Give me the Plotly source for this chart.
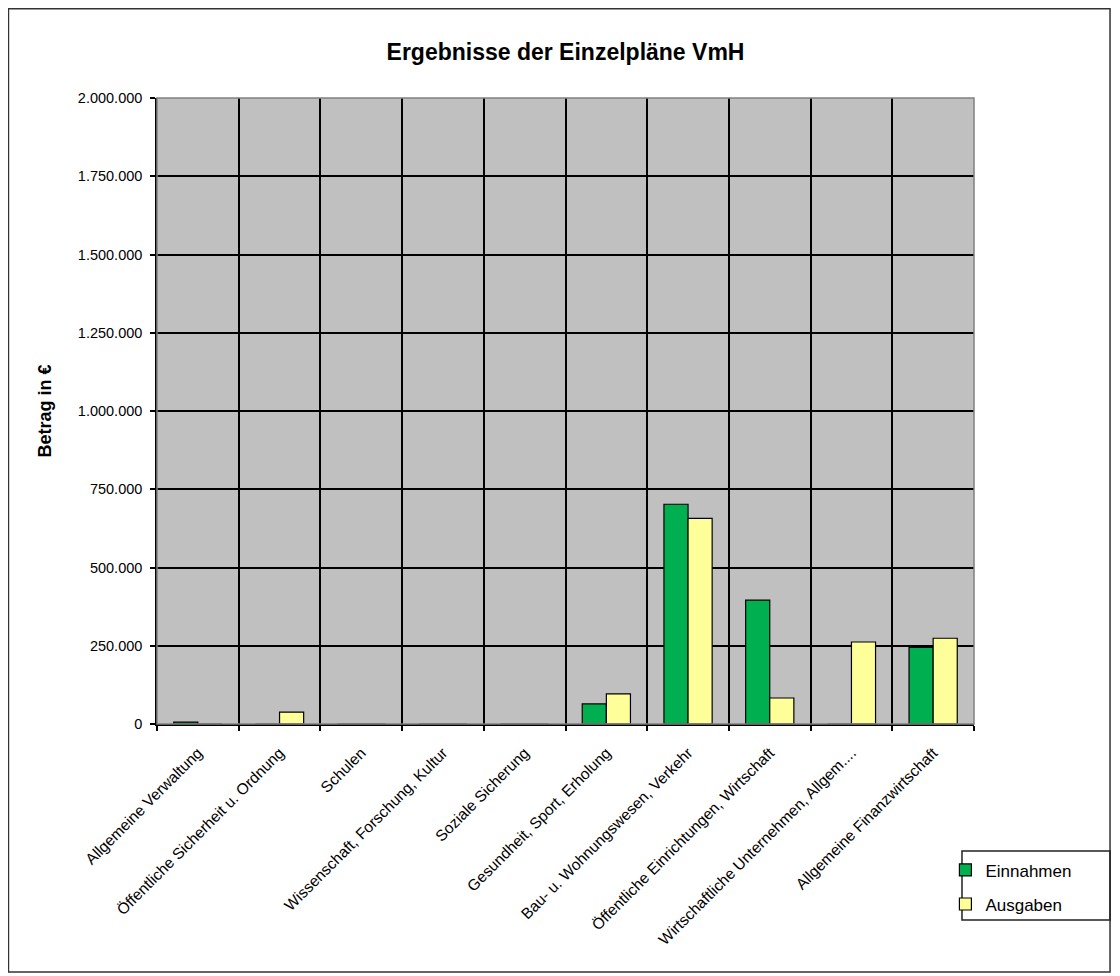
import plotly.graph_objects as go

# Einzelpläne (Kategorien)
kategorien = [
    "Allgemeine Verwaltung",
    "Öffentliche Sicherheit u. Ordnung",
    "Schulen",
    "Wissenschaft, Forschung, Kultur",
    "Soziale Sicherung",
    "Gesundheit, Sport, Erholung",
    "Bau- u. Wohnungswesen, Verkehr",
    "Öffentliche Einrichtungen, Wirtschaft",
    "Wirtschaftliche Unternehmen, Allgem....",
    "Allgemeine Finanzwirtschaft",
]

# Beträge in Euro
einnahmen = [6000, 0, 0, 0, 0, 64000, 702000, 396000, 0, 245000]
ausgaben = [0, 38000, 0, 0, 0, 96000, 657000, 83000, 262000, 274000]

y_ticks = [0, 250000, 500000, 750000, 1000000, 1250000, 1500000, 1750000, 2000000]

FONT = "Arial, 'Liberation Sans', sans-serif"

fig = go.Figure()
fig.add_trace(go.Bar(
    x=kategorien, y=einnahmen, name="Einnahmen", legendgroup="e",
    marker=dict(color="#00B050", line=dict(color="black", width=1.2)),
))
fig.add_trace(go.Bar(
    x=kategorien, y=ausgaben, name="Ausgaben", legendgroup="a",
    marker=dict(color="#FFFF99", line=dict(color="black", width=1.2)),
))

# äußerer Rahmen, Legendenrahmen, grauer Rahmen des Diagrammbereichs
fig.add_shape(type="rect", xref="paper", yref="paper",
              x0=-0.1818, x1=1.1665, y0=-0.3962, y1=1.1426,
              line=dict(color="#333333", width=1.5), layer="below")
fig.add_shape(type="rect", xref="paper", yref="paper",
              x0=0.9853, x1=1.1665, y0=-0.3131, y1=-0.2029,
              line=dict(color="#222222", width=1.5), layer="below")
fig.add_shape(type="rect", xref="paper", yref="paper",
              x0=0, x1=1, y0=0, y1=1,
              line=dict(color="#808080", width=1.5), layer="above")

fig.update_layout(
    width=1120, height=976,
    margin=dict(l=149, r=154, t=90, b=260),
    paper_bgcolor="white",
    plot_bgcolor="#C0C0C0",
    separators=",.",
    font=dict(family=FONT, color="black", size=13),
    title=dict(text="<b>Ergebnisse der Einzelpläne VmH</b>",
               x=0.5, xanchor="center", xref="paper",
               y=0.955, yanchor="middle",
               font=dict(size=23, family=FONT)),
    barmode="group",
    bargap=0.41,
    bargroupgap=0,
    legend=dict(
        x=0.965, y=-0.205, xanchor="left", yanchor="top",
        borderwidth=0, bgcolor="rgba(0,0,0,0)",
        font=dict(size=17, family=FONT),
        itemwidth=30, tracegroupgap=9,
    ),
    showlegend=True,
)

fig.update_xaxes(
    type="category",
    tickson="boundaries",
    showgrid=True, gridcolor="black", gridwidth=1.5,
    showline=True, linecolor="black", linewidth=1.5,
    ticks="outside", ticklen=5, tickcolor="black", tickwidth=1.5,
    tickangle=-45,
    ticklabelstandoff=12,
    tickfont=dict(size=15.5, family=FONT),
)
fig.update_yaxes(
    range=[0, 2000000],
    tickvals=y_ticks,
    tickformat=",d",
    showgrid=True, gridcolor="black", gridwidth=1.5,
    showline=True, linecolor="black", linewidth=1.5,
    ticks="outside", ticklen=5, tickcolor="black", tickwidth=1.5,
    zeroline=False,
    ticklabelstandoff=5,
    tickfont=dict(size=14.5, family=FONT),
    title=dict(text="<b>Betrag in €</b>", font=dict(size=18, family=FONT), standoff=22),
)

fig.write_html("out.html")
